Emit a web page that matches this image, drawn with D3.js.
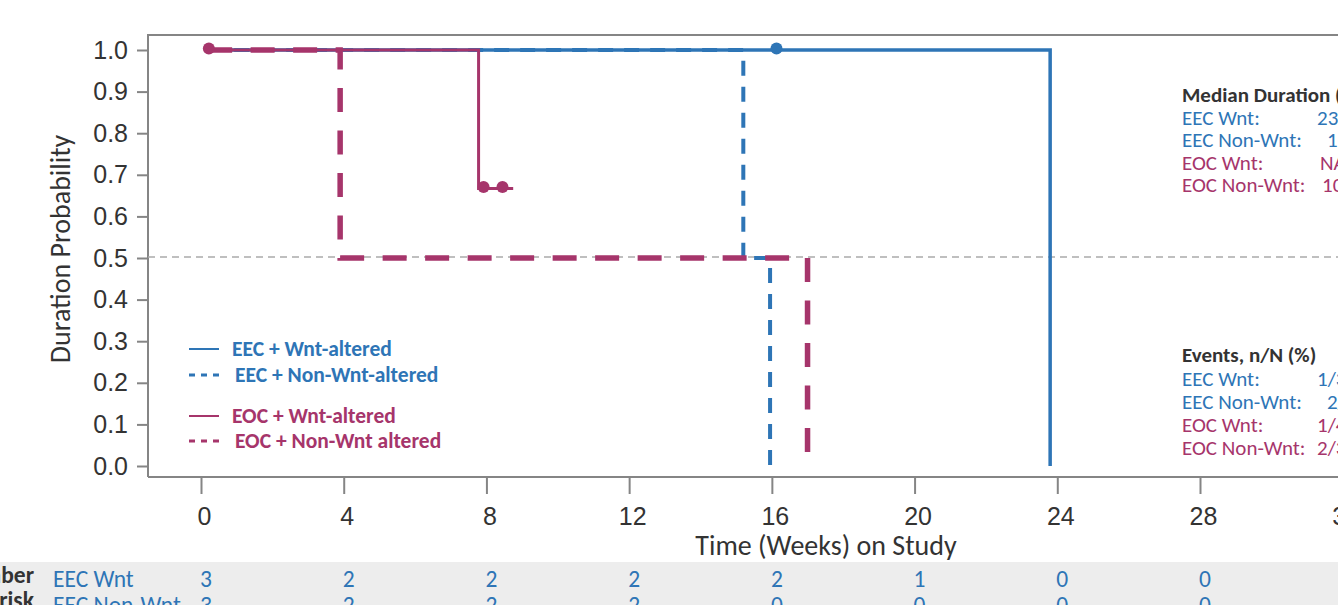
<!DOCTYPE html>
<html>
<head>
<meta charset="utf-8">
<script src="https://cdn.jsdelivr.net/npm/d3@7"></script>
<style>
  body { margin: 0; background: #fff; }
  svg { display: block; font-family: Carlito, Lato, "Open Sans", sans-serif; }
</style>
</head>
<body>
<svg id="chart" width="1338" height="605"></svg>
<script>
// weeks on study / duration probability
const eecWnt = [[0.2, 1], [23.8, 1], [23.8, 0]];
const eecNonWnt = [[0.2, 1], [15.2, 1], [15.2, 0.5], [15.95, 0.5], [15.95, 0]];
const eocWnt = [[0.2, 1], [7.78, 1], [7.78, 0.667], [8.75, 0.667]];
const eocNonWnt = [[0.2, 1], [3.9, 1], [3.9, 0.5], [17.0, 0.5], [17.0, 0]];

const eecWntCensor = [[16.13, 1]];
const eocWntCensor = [[0.22, 1], [7.92, 0.667], [8.45, 0.667]];

const xTicks = [0, 4, 8, 12, 16, 20, 24, 28, 32];
const yTicks = [0, 0.1, 0.2, 0.3, 0.4, 0.5, 0.6, 0.7, 0.8, 0.9, 1.0];

const riskRows = ["EEC Wnt", "EEC Non-Wnt"];
const riskEecWnt = [3, 2, 2, 2, 2, 1, 0, 0];
const riskEecNonWnt = [3, 2, 2, 2, 0, 0, 0, 0];

const groups = ["EEC Wnt:", "EEC Non-Wnt:", "EOC Wnt:", "EOC Non-Wnt:"];
const medians = ["23.8", "15.2", "NA", "10.5"];
const events = ["1/3 (33)", "2/3 (67)", "1/4 (25)", "2/3 (67)"];

const BLUE = "#2e75b6", MAG = "#a6356b", AXIS = "#858585", TXT = "#333";

const svg = d3.select("#chart");
const plotL = 148, plotT = 35, plotB = 477;

const x = d3.scaleLinear().domain([0, 28]).range([201, 1200]);
const y = d3.scaleLinear().domain([0, 1]).range([466, 50]);

// number at risk band
svg.append("rect").attr("x", 0).attr("y", 562).attr("width", 1338).attr("height", 50).attr("fill", "#ededed");

// frame
svg.append("path")
  .attr("d", `M${plotL},${plotB}V${plotT}H1345`)
  .attr("fill", "none").attr("stroke", AXIS).attr("stroke-width", 2);

// 0.5 reference
svg.append("line")
  .attr("x1", plotL).attr("x2", 1345).attr("y1", y(0.5) - 1).attr("y2", y(0.5) - 1)
  .attr("stroke", "#aaa").attr("stroke-width", 1.5).attr("stroke-dasharray", "7,5");

const yAxis = svg.append("g").attr("transform", `translate(${plotL},0)`)
  .call(d3.axisLeft(y).tickValues(yTicks).tickFormat(d3.format(".1f")).tickSize(11).tickPadding(9));
const xAxis = svg.append("g").attr("transform", `translate(0,${plotB})`)
  .call(d3.axisBottom(x).tickValues(xTicks).tickSize(17).tickPadding(13));
[yAxis, xAxis].forEach(g => {
  g.select(".domain").remove();
  g.selectAll(".tick line").attr("stroke", AXIS).attr("stroke-width", 2);
  g.selectAll(".tick text").attr("fill", TXT).style("font-size", "25px");
});
xAxis.selectAll(".tick text").attr("dx", 3);
svg.append("line").attr("x1", plotL).attr("x2", 1345).attr("y1", plotB).attr("y2", plotB)
  .attr("stroke", AXIS).attr("stroke-width", 2);

svg.append("text").attr("x", 826).attr("y", 555).attr("text-anchor", "middle")
  .attr("fill", TXT).style("font-size", "28px").text("Time (Weeks) on Study");
svg.append("text").attr("transform", "translate(70,249) rotate(-90)").attr("text-anchor", "middle")
  .attr("fill", TXT).style("font-size", "28px").text("Duration Probability");

// curves
const line = d3.line().x(d => x(d[0])).y(d => y(d[1]));
const curves = [
  { data: eecNonWnt, color: BLUE, w: 4, dash: "15,11" },
  { data: eecWnt, color: BLUE, w: 3.5, dash: null },
  { data: eocNonWnt, color: MAG, w: 5.5, dash: "24,18.5" },
  { data: eocWnt, color: MAG, w: 3, dash: null }
];
curves.forEach(c => {
  svg.append("path").datum(c.data).attr("d", line)
    .attr("fill", "none").attr("stroke", c.color).attr("stroke-width", c.w)
    .attr("stroke-dasharray", c.dash);
});
svg.selectAll(".cb").data(eecWntCensor).join("circle")
  .attr("cx", d => x(d[0])).attr("cy", d => y(d[1]) - 1.5).attr("r", 6).attr("fill", BLUE);
svg.selectAll(".cm").data(eocWntCensor).join("circle")
  .attr("cx", d => x(d[0])).attr("cy", d => y(d[1]) - 1.5).attr("r", 6).attr("fill", MAG);

// legend
const legend = [
  { label: "EEC + Wnt-altered", color: BLUE, dash: null, y: 356, tx: 232 },
  { label: "EEC + Non-Wnt-altered", color: BLUE, dash: "6,6", y: 382, tx: 235 },
  { label: "EOC + Wnt-altered", color: MAG, dash: null, y: 423, tx: 232 },
  { label: "EOC + Non-Wnt altered", color: MAG, dash: "6,6", y: 448, tx: 235 }
];
legend.forEach(l => {
  svg.append("line").attr("x1", 189).attr("x2", l.dash ? 223 : 219)
    .attr("y1", l.y - 7).attr("y2", l.y - 7)
    .attr("stroke", l.color).attr("stroke-width", l.dash ? 3 : 2).attr("stroke-dasharray", l.dash);
  svg.append("text").attr("x", l.tx).attr("y", l.y).attr("fill", l.color)
    .style("font-size", "21.5px").style("font-weight", "bold").text(l.label);
});

// side notes
const colorOf = i => (i < 2 ? BLUE : MAG);
function notes(title, ty, values, vx, rowY) {
  svg.append("text").attr("x", 1182).attr("y", ty).attr("fill", TXT)
    .style("font-size", "21px").style("font-weight", "bold").text(title);
  groups.forEach((g, i) => {
    svg.append("text").attr("x", 1182).attr("y", rowY[i]).attr("fill", colorOf(i))
      .style("font-size", "21px").text(g);
    svg.append("text").attr("x", vx[i]).attr("y", rowY[i]).attr("fill", colorOf(i))
      .style("font-size", "21px").text(values[i]);
  });
}
notes("Median Duration (Weeks)", 102, medians, [1317, 1327, 1320, 1322], [125, 147, 170, 192]);
notes("Events, n/N (%)", 362, events, [1317, 1327, 1317, 1317], [386, 409, 432, 455]);

// number at risk
svg.append("text").attr("x", 34).attr("y", 583).attr("text-anchor", "end").attr("fill", TXT)
  .style("font-size", "23.5px").style("font-weight", "bold").text("Number");
svg.append("text").attr("x", 34).attr("y", 608).attr("text-anchor", "end").attr("fill", TXT)
  .style("font-size", "23.5px").style("font-weight", "bold").text("at risk");
[riskEecWnt, riskEecNonWnt].forEach((row, r) => {
  const ry = 587 + r * 26;
  svg.append("text").attr("x", 53).attr("y", ry).attr("fill", BLUE).style("font-size", "23.5px").text(riskRows[r]);
  svg.selectAll(null).data(row).join("text")
    .attr("x", (d, i) => x(xTicks[i]) + 5).attr("y", ry).attr("text-anchor", "middle")
    .attr("fill", BLUE).style("font-size", "23.5px").text(d => d);
});
</script>
</body>
</html>
